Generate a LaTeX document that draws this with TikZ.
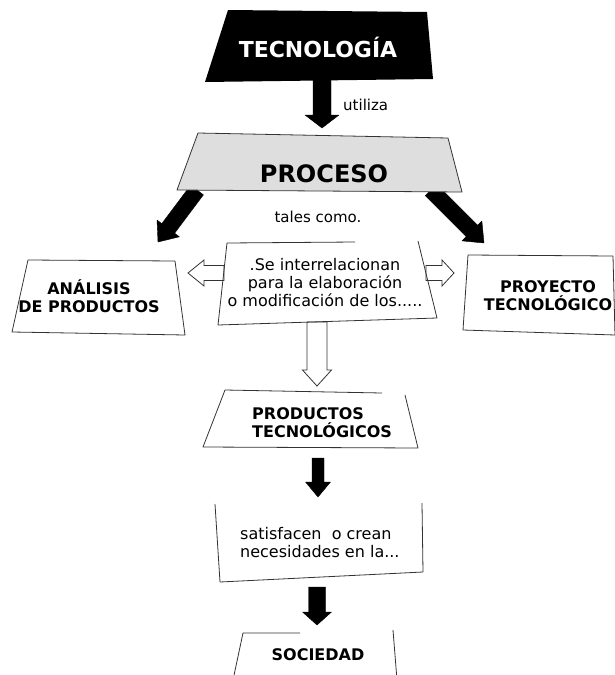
\documentclass[tikz,border=0pt]{standalone}
\usepackage{fontspec}
\setmainfont{DejaVu Sans}
\usetikzlibrary{calc}

% wide arrow: [style]{from}{to}{shaft half width}{head half width}{head length}
\newcommand{\fatarrow}[6][]{%
  \coordinate (fa-base) at ($(#3)!#6!(#2)$);
  \draw[#1] ($(#2)!#4!90:(#3)$) -- ($(fa-base)!#4!90:(#3)$) -- ($(fa-base)!#5!90:(#3)$)
    -- (#3) -- ($(fa-base)!#5!-90:(#3)$) -- ($(fa-base)!#4!-90:(#3)$)
    -- ($(#2)!#4!-90:(#3)$) -- cycle;
}

\begin{document}
\begin{tikzpicture}[x=1pt,y=-1pt,
  box/.style={draw=kGrey,line width=0.8pt,line join=round},
  title/.style={font=\fontsize{16}{18}\selectfont\bfseries,align=center,inner sep=0pt},
  note/.style={font=\fontsize{16}{18}\selectfont,align=center,inner sep=0pt},
  small/.style={font=\fontsize{15}{18}\selectfont,inner sep=0pt},
  blackarrow/.style={fill=black,draw=black,line join=round},
  hollowarrow/.style={fill=white,draw=kGrey,line width=0.8pt,line join=miter}]
  % colors
  \definecolor{kGrey}{rgb}{0.2,0.2,0.2}
  \definecolor{kLight}{rgb}{0.87,0.87,0.87}
  \useasboundingbox (0,0) rectangle (615,675);

  % arrow ends
  \coordinate (tec-s) at (322,80);
  \coordinate (proc-n) at (322,128);
  \coordinate (proc-sw) at (197,190);
  \coordinate (ana-n) at (158,242);
  \coordinate (proc-se) at (431,190);
  \coordinate (pro-n) at (484,243);
  \coordinate (mid-w) at (224,273);
  \coordinate (ana-e) at (188,273);
  \coordinate (mid-e) at (426,273);
  \coordinate (pro-w) at (454,273);
  \coordinate (mid-s) at (317,322);
  \coordinate (prod-n) at (317,386);
  \coordinate (prod-s) at (318,458);
  \coordinate (sat-n) at (318,497);
  \coordinate (sat-s) at (317,587);
  \coordinate (soc-n) at (317,625);

  % arrows
  \fatarrow[blackarrow]{tec-s}{proc-n}{9pt}{17pt}{13pt}
  \fatarrow[blackarrow]{proc-sw}{ana-n}{8pt}{14pt}{17pt}
  \fatarrow[blackarrow]{proc-se}{pro-n}{8pt}{14pt}{17pt}
  \fatarrow[hollowarrow]{mid-w}{ana-e}{7.5pt}{13pt}{16pt}
  \fatarrow[hollowarrow]{mid-e}{pro-w}{7.5pt}{13pt}{12pt}
  \fatarrow[hollowarrow]{mid-s}{prod-n}{10pt}{14.5pt}{16pt}
  \fatarrow[blackarrow]{prod-s}{sat-n}{6pt}{12.5pt}{15pt}
  \fatarrow[blackarrow]{sat-s}{soc-n}{8.5pt}{14.5pt}{13pt}

  % shapes
  \fill[black] (228,10) -- (427,12) -- (433,79) -- (205,82) -- cycle;
  \draw[box,fill=kLight] (198,133) -- (448,138) -- (462,192) -- (177,190) -- cycle;
  \draw[box] (28,260) -- (175,261) -- (185,335) -- (12,332) -- cycle;
  \draw[box] (468,255) -- (613,256) -- (615,335) -- (463,330) -- cycle;
  \draw[box] (355,242) -- (227,243) -- (218,325) -- (437,318) -- (418,241);
  \draw[box] (382,393) -- (225,390) -- (203,447) -- (418,448) -- (405,395);
  \draw[box] (215,504) -- (220,582) -- (423,572) -- (422,503);
  \draw[box] (300,633) -- (243,633) -- (233,680);
  \draw[box] (393,630) -- (397,680);

  % texts
  \node[title,text=white,font=\fontsize{22}{26}\selectfont\bfseries] (tec) at (318,47) {TECNOLOGÍA};
  \node[small,anchor=base west] (uses) at (343,110) {utiliza};
  \node[title,font=\fontsize{24}{28}\selectfont\bfseries] (proc) at (324,174) {PROCESO};
  \node[small,anchor=base] (such) at (318,222) {tales como.};
  \node[title] (ana) at (89,296) {ANÁLISIS\\DE PRODUCTOS};
  \node[title] (pro) at (548,296) {PROYECTO\\TECNOLÓGICO};
  \node[note] (mid) at (325,283) {.Se interrelacionan\\para la elaboración\\o modificación de los.....};
  \node[title,align=left,anchor=west] (prod) at (252,423) {PRODUCTOS\\TECNOLÓGICOS};
  \node[note,align=left,anchor=west] (sat) at (240,543) {satisfacen\ \ o crean\\necesidades en la...};
  \node[title] (soc) at (318,655) {SOCIEDAD};
\end{tikzpicture}
\end{document}
